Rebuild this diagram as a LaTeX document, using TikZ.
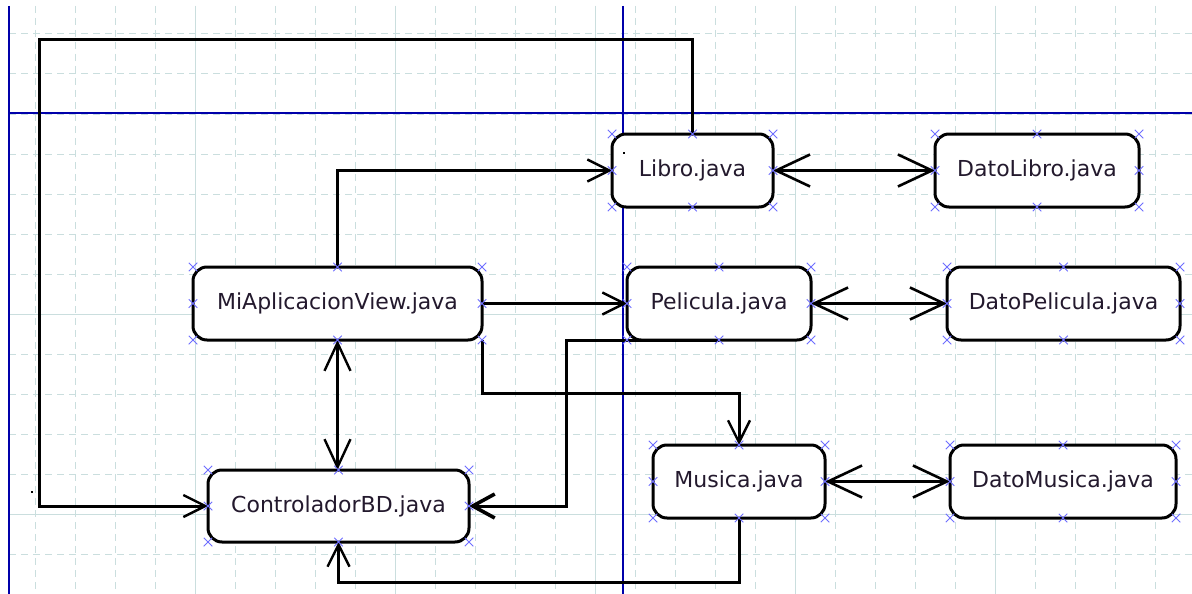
\documentclass[tikz,border=0pt]{standalone}
\usepackage{fontspec}
\setmainfont{DejaVu Sans}
\usetikzlibrary{arrows.meta,shapes.misc}
\definecolor{gridc}{RGB}{202,222,222}
\definecolor{guide}{RGB}{0,0,170}
\definecolor{markc}{RGB}{110,110,255}
\definecolor{txtc}{RGB}{35,25,45}
\tikzset{
  gridminor/.style={draw=gridc, line width=1pt, dash pattern=on 7pt off 5pt},
  gridmajor/.style={draw=gridc, line width=1pt},
  guideline/.style={draw=guide, line width=1.6pt},
  cls/.style={draw=black, line width=3pt, fill=white, rounded corners=14pt,
    inner sep=0pt, outer sep=0pt, minimum height=73pt, text=txtc,
    font=\fontsize{22}{26}\selectfont},
  pinx/.style={cross out, draw=markc, line width=1pt, minimum size=7.5pt, inner sep=0pt},
  link/.style={line width=3pt, -{Straight Barb[length=22pt,width=22pt,line width=2.4pt]}},
  boldlink/.style={line width=3pt, -{Straight Barb[length=22pt,width=24pt,line width=3.6pt]}},
  twoway/.style={line width=3pt,
    {Straight Barb[length=34pt,width=32pt,line width=2.6pt]}-{Straight Barb[length=34pt,width=32pt,line width=2.6pt]}},
  vtwoway/.style={line width=3pt,
    {Straight Barb[length=28pt,width=26pt,line width=2.4pt]}-{Straight Barb[length=28pt,width=26pt,line width=2.4pt]}},
}
\begin{document}
\begin{tikzpicture}[x=1pt,y=-1pt]
\useasboundingbox (0,0) rectangle (1192,594);
\fill[white] (0,0) rectangle (1192,594);

% background grid
\foreach \x in {35,75,...,1195} \draw[gridminor] (\x,6) -- (\x,594);
\foreach \y in {34,74,...,594} \draw[gridminor] (9,\y) -- (1192,\y);
\foreach \x in {195,395,...,995} \draw[gridmajor] (\x,6) -- (\x,594);
\foreach \y in {314,514} \draw[gridmajor] (9,\y) -- (1192,\y);

% guide lines
\draw[guideline] (9,6) -- (9,594);
\draw[guideline] (9,113) -- (1192,113);
\draw[guideline] (623,6) -- (623,594);
\fill[black] (30.5,490.5) rectangle ++(2,2);

% classes
\node[cls, minimum width=161pt] (libro)  at (692.5,170.5) {Libro.java};
\node[cls, minimum width=204pt] (dlibro) at (1037,170.5) {DatoLibro.java};
\node[cls, minimum width=289pt] (mi)     at (337.5,303.5) {MiAplicacionView.java};
\node[cls, minimum width=184pt] (pel)    at (719,303.5) {Pelicula.java};
\node[cls, minimum width=233pt] (dpel)   at (1063.5,303.5) {DatoPelicula.java};
\node[cls, minimum width=261pt, minimum height=72pt] (ctrl) at (338.5,506) {ControladorBD.java};
\node[cls, minimum width=172pt] (mus)    at (739,481.5) {Musica.java};
\node[cls, minimum width=226pt] (dmus)   at (1063,481.5) {DatoMusica.java};
\fill[black] (622.5,152) rectangle ++(2,2);

% bend points
\coordinate (c1) at (39,40);
\coordinate (c4) at (482,393);
\coordinate (c5) at (566,340);
\coordinate (c6) at (739,582);

% connectors
\draw[link] (libro.north) |- (c1) |- (ctrl.west);
\draw[link] (mi.north) |- (libro.west);
\draw[link] (mi.east) -- (pel.west);
\draw[link] (mi.south east) |- (c4) -| (mus.north);
\draw[boldlink] (pel.south) -| (c5) |- (ctrl.east);
\draw[link] (mus.south) |- (c6) -| (ctrl.south);
\draw[vtwoway] (mi.south) -- (mi.south |- ctrl.north);
\draw[twoway] (libro.east) -- (dlibro.west);
\draw[twoway] (pel.east) -- (dpel.west);
\draw[twoway] (mus.east) -- (dmus.west);

% connection handles
\foreach \n in {libro,dlibro,mi,pel,dpel,ctrl,mus,dmus}
  \foreach \a in {north west,north,north east,west,east,south west,south,south east}
    \node[pinx] at (\n.\a) {};
\end{tikzpicture}
\end{document}
